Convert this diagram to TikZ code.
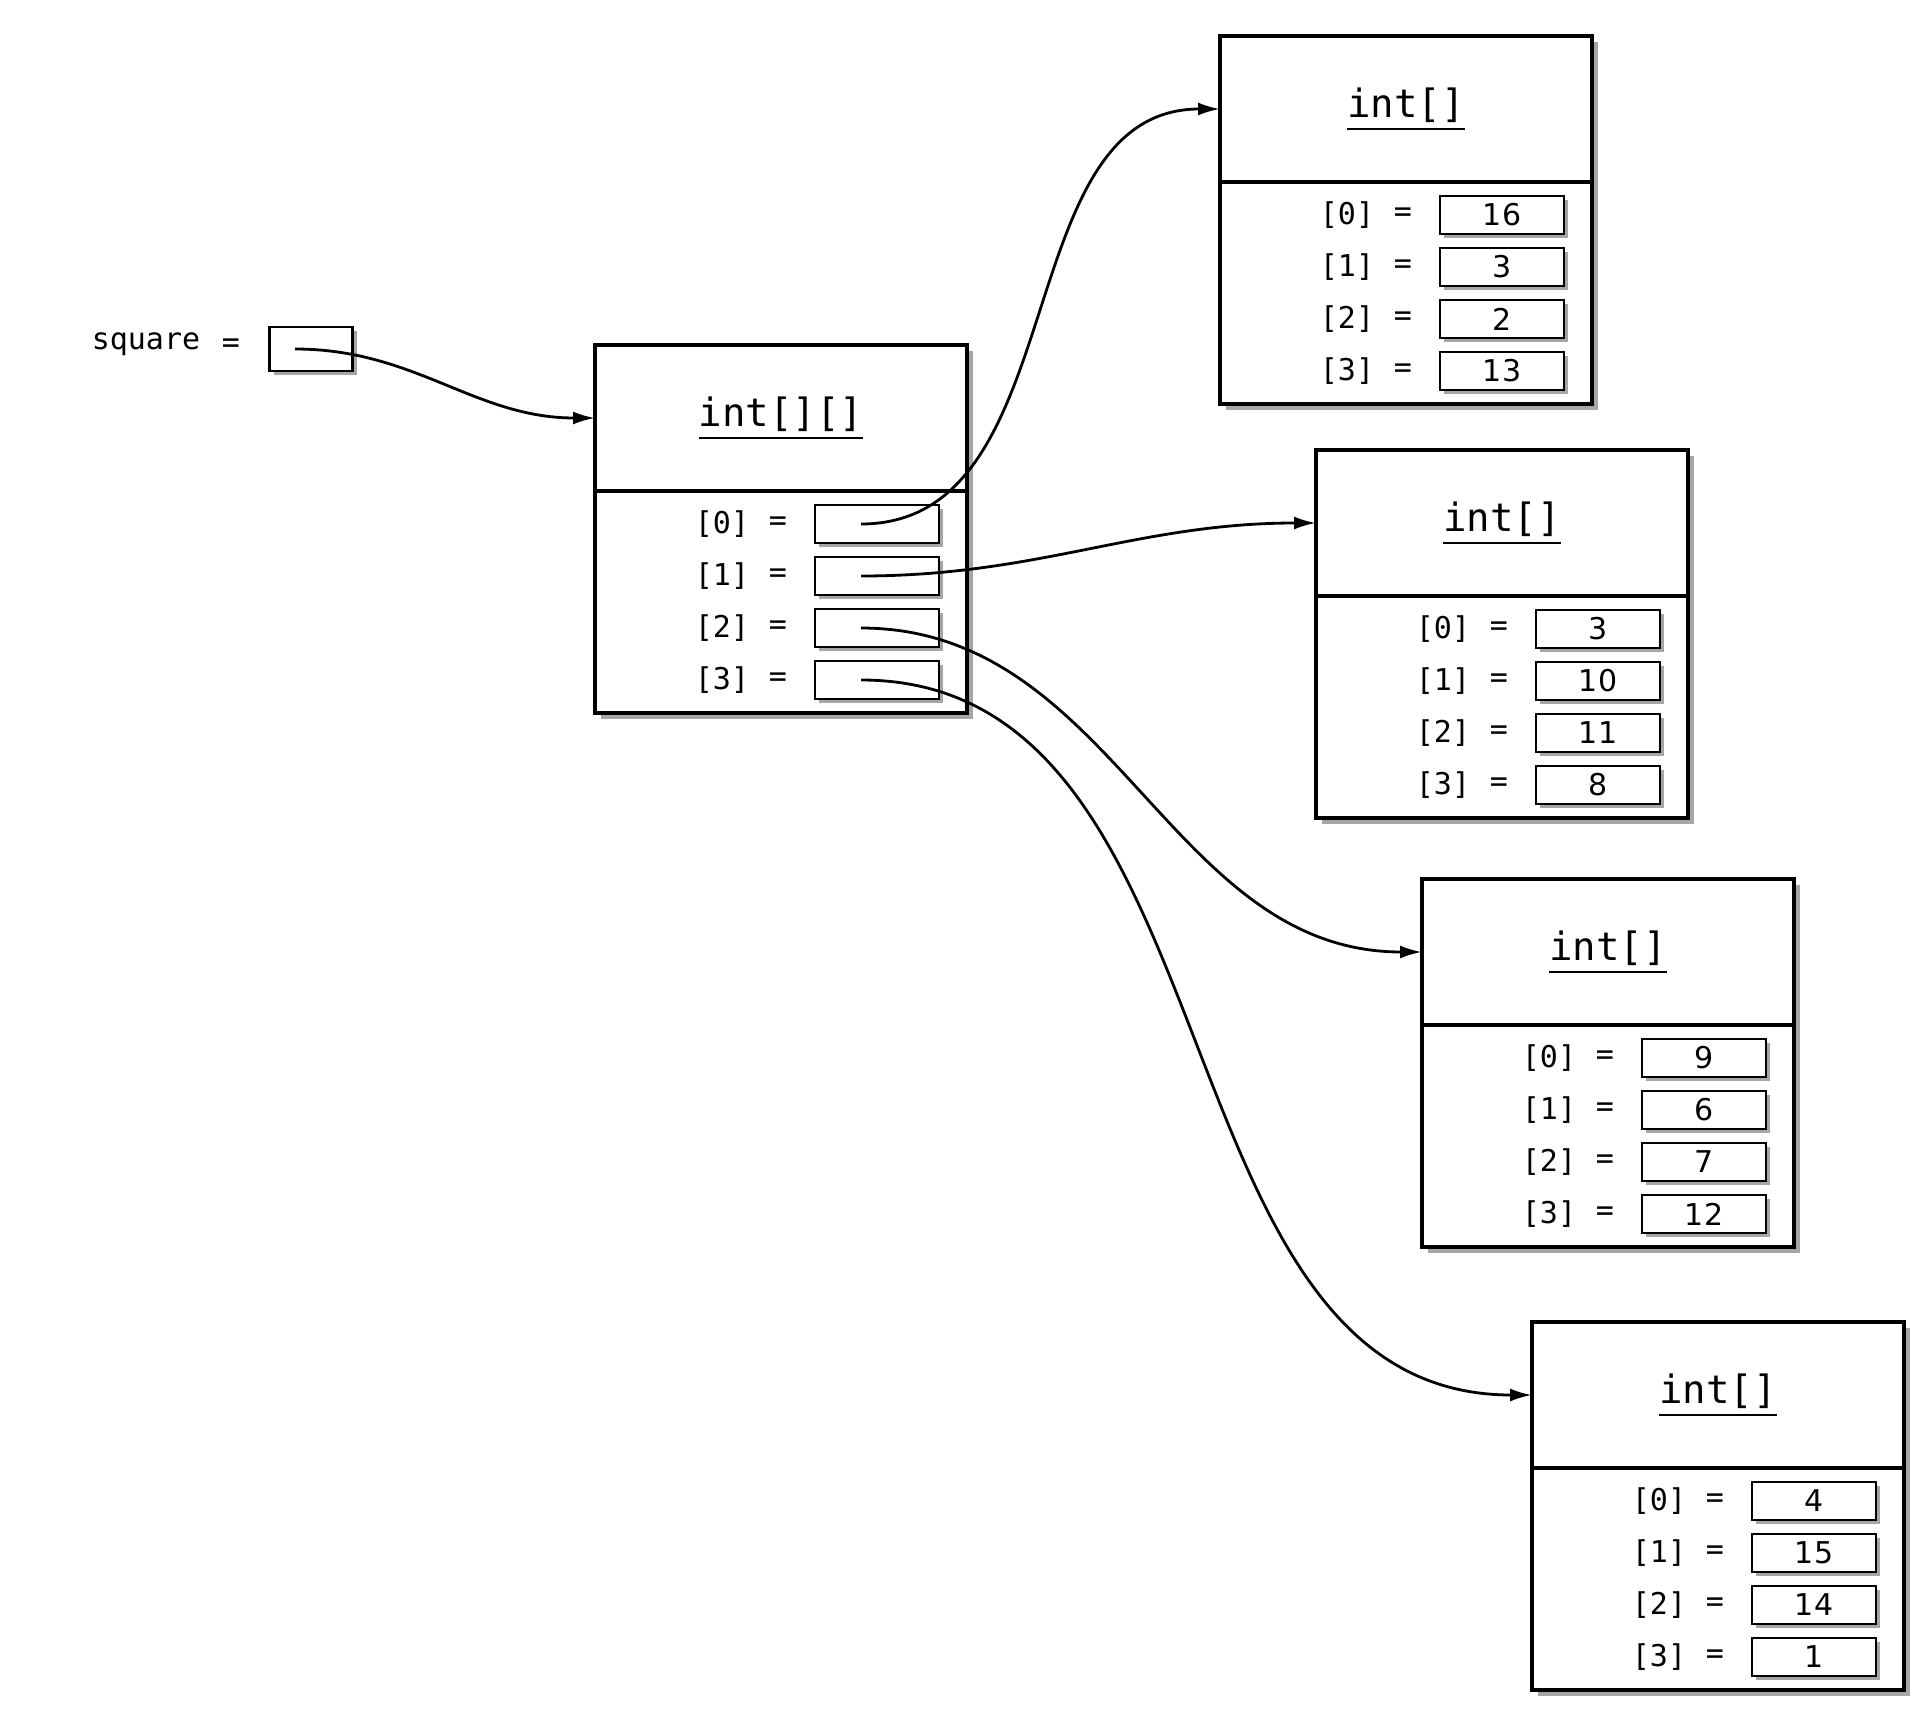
\documentclass[tikz,border=0pt]{standalone}
\usepackage{fontspec}
\setmonofont{DejaVu Sans Mono}
\newfontfamily\numfont{DejaVu Sans}
\newcommand{\titleline}[1]{\setbox0\hbox{#1}\rlap{\rule[-6.5pt]{\wd0}{1.4pt}}\box0}
\usetikzlibrary{arrows.meta,positioning,shadows}

\begin{document}
\begin{tikzpicture}[x=0.5pt,y=-0.5pt,
	objbox/.style={draw,line width=1.7pt,fill=white,minimum width=186pt,inner sep=0pt,outer sep=0pt,
		drop shadow={shadow xshift=3pt,shadow yshift=-3pt,fill=black!35,opacity=1}},
	objhead/.style={objbox,minimum height=73pt,font=\ttfamily\fontsize{19.5}{23}\selectfont},
	objbody/.style={objbox,minimum height=111pt},
	slot/.style={draw,line width=1.3pt,fill=white,minimum width=62pt,minimum height=19pt,inner sep=0pt,
		drop shadow={shadow xshift=2pt,shadow yshift=-2pt,fill=black!35,opacity=1},
		font=\numfont\fontsize{15}{17}\selectfont},
	idx/.style={font=\ttfamily\fontsize{15}{18}\selectfont},
	ref/.style={-{Latex[length=11pt,width=6.5pt]},line width=1.4pt}]
	\useasboundingbox (0,0) rectangle (1920,1728);
	% the array objects
	\foreach \n/\x/\y/\t/\vals in {0/595/345/{int[][]}/{,,,},1/1220/36/{int[]}/{16,3,2,13},
		2/1316/450/{int[]}/{3,10,11,8},3/1422/879/{int[]}/{9,6,7,12},4/1532/1322/{int[]}/{4,15,14,1}} {
		\node[objhead,anchor=north west] (h\n) at (\x,\y) {\titleline{\t}};
		\node[objbody,below=0pt of h\n] (b\n) {};
		\foreach \v [count=\i from 0] in \vals {
			\node[idx] at ([xshift=63.5pt,yshift={-(16.5pt+26pt*\i)}]b\n.north west) {[\i]};
			\node[idx] at ([xshift=91.5pt,yshift={-(16.5pt+26pt*\i)}]b\n.north west) {=};
			\node[slot] (s\n\i) at ([xshift=141pt,yshift={-(16.5pt+26pt*\i)}]b\n.north west) {\v};
		}
	}
	% the variable
	\node[idx] (sqname) at (146,344) {square};
	\node[idx] (sqeq) at (231,346) {=};
	\node[slot,minimum width=41.5pt,minimum height=22pt] (sq) at (311,349) {};
	% references
	\draw[ref] ([xshift=-8pt]sq.center) to[out=0,in=180] (h0.west);
	\draw[ref] ([xshift=-8pt]s00.center) to[out=0,in=180] (h1.west);
	\draw[ref] ([xshift=-8pt]s01.center) to[out=0,in=180] (h2.west);
	\draw[ref] ([xshift=-8pt]s02.center) to[out=0,in=180] (h3.west);
	\draw[ref] ([xshift=-8pt]s03.center) to[out=0,in=180] (h4.west);
\end{tikzpicture}
\end{document}
